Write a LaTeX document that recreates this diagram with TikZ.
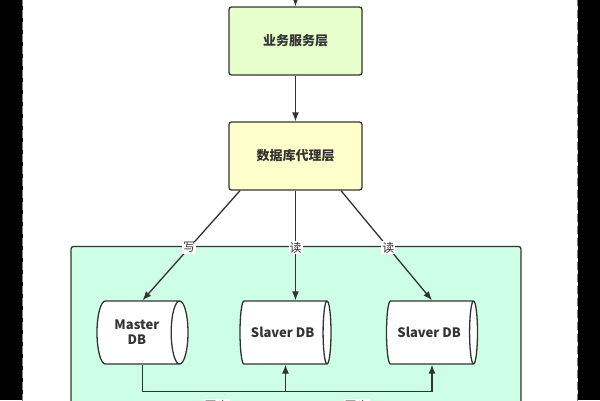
\documentclass[tikz,border=0pt]{standalone}
\usepackage{fontspec}
\setmainfont{Noto Sans CJK SC}
\usepackage{tikz}
\usetikzlibrary{calc, positioning, shapes.geometric, arrows.meta}

\definecolor{edge}{HTML}{333333}
\definecolor{svcfill}{HTML}{E6FFCC}
\definecolor{proxyfill}{HTML}{FFFFCC}
\definecolor{zonefill}{HTML}{CCFFE6}

\begin{document}
\begin{tikzpicture}[x=1pt, y=-1pt, >={Latex[length=9pt,width=7pt]},
    layer/.style={draw=edge, line width=1.3pt, rounded corners=2.5pt, minimum width=133pt,
      minimum height=68pt, font=\fontsize{13}{15}\selectfont\bfseries, text=edge},
    db/.style={cylinder, shape border rotate=0, anchor=shape center, draw=edge,
      line width=1.3pt, fill=white, aspect=0.63, minimum height=91pt, minimum width=63pt,
      inner sep=1pt, align=center, text=edge, font=\fontsize{13}{15}\selectfont\bfseries},
    conn/.style={draw=edge, line width=1.3pt},
    tag/.style={fill=white, inner sep=1pt, text=edge, font=\fontsize{12}{14}\selectfont}]
  \useasboundingbox (0,0) rectangle (600,400);
  \fill [black] (0,0) rectangle (600,400);
  \fill [white] (22.5,0) rectangle (577.5,400);
  \draw [gray, line width=1.3pt, dash pattern=on 8pt off 4pt] (22.5,-2) -- (22.5,402);
  \draw [gray, line width=1.3pt, dash pattern=on 8pt off 4pt] (577.5,-2) -- (577.5,402);
  \draw [edge, line width=1.3pt, fill=zonefill, rounded corners=2.5pt] (71,246.5) rectangle (521,430);

  \node (svc) at (295.5,41) [layer, fill=svcfill] {业务服务层};
  \node (proxy) at (295.5,156) [layer, fill=proxyfill] {数据库代理层};
  \node (master) at (142.5,332.5) [db] {Master\\DB};
  \node (slave1) at (285.5,332.5) [db] {Slaver DB};
  \node (slave2) at (432,332.5) [db] {Slaver DB};
  \coordinate (in) at (295.5,-2);
  \coordinate (bus) at ($(master.shape center |- master.south)+(0,26.5)$);

  \draw [conn, ->] (in) -- (svc);
  \draw [conn, ->] (svc) -- (proxy);
  \draw [conn, ->] (proxy.south -| 240,0) -- (master.shape center |- master.north)
    node [tag, pos=0.52] {写};
  \draw [conn, ->] (proxy.south) -- (proxy.south |- slave1.north) node [tag, pos=0.52] {读};
  \draw [conn, ->] (proxy.south -| 341,0) -- (slave2.shape center |- slave2.north)
    node [tag, pos=0.52] {读};
  \draw [conn, ->] (master.shape center |- master.south) -- (bus)
    -| (slave2.shape center |- slave2.south);
  \draw [conn, ->] (bus -| slave1.shape center) -- (slave1.shape center |- slave1.south);
  \node (sync1) at (216.5,406) [tag] {同步};
  \node (sync2) at (356.5,406) [tag] {同步};
\end{tikzpicture}
\end{document}
